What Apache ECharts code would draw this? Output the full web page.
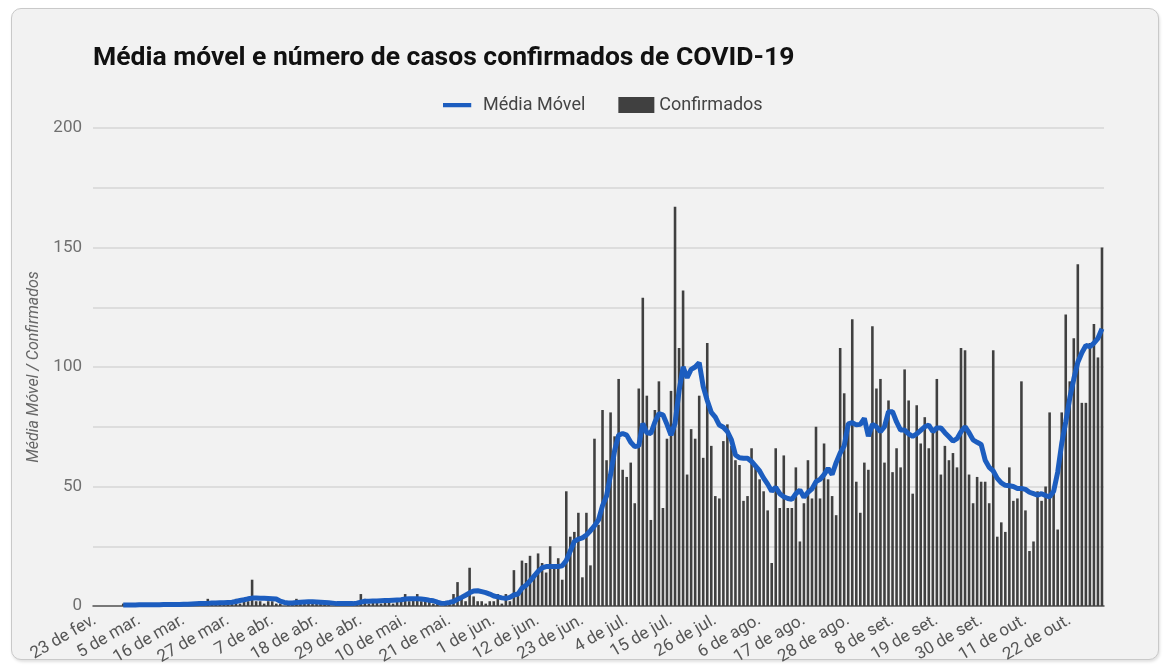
<!DOCTYPE html>
<html><head><meta charset="utf-8">
<script src="https://cdn.jsdelivr.net/npm/echarts@6/dist/echarts.min.js"></script>
<style>
html,body{margin:0;padding:0;background:#fff;}
#panel{position:absolute;left:11px;top:8px;width:1146px;height:650px;border:1px solid #c9c9c9;border-radius:10px;background:#f2f2f2;box-shadow:1px 2px 3px rgba(0,0,0,0.12);}
#chart{position:absolute;left:0;top:0;width:1165px;height:669px;}
</style></head>
<body><div id="panel"></div><div id="chart"></div>
<script>
// Date range: 23 fev. to 30 out. (251 days)
const startDay = [2020, 1, 23]; // year, month index (0-based), day
const dayCount = 251;
const monthNames = ['jan','fev','mar','abr','mai','jun','jul','ago','set','out','nov','dez'];

const confirmados = [
  0,0,0,0,0,0,0,
  1,0,0,1,0,1,0,
  0,1,0,1,0,0,1,
  0,1,0,1,1,2,1,
  3,1,2,1,1,2,1,
  3,1,2,2,11,2,2,
  1,2,2,1,1,0,1,
  1,3,1,2,1,2,1,
  2,1,1,0,1,1,0,
  1,1,2,5,3,1,2,
  2,1,3,2,1,2,3,
  5,2,3,5,2,3,2,
  1,2,0,1,1,5,10,
  3,2,16,4,2,2,1,
  2,2,5,1,5,2,15,
  5,19,18,21,12,22,18,
  14,25,16,20,11,48,29,
  31,39,12,39,17,70,34,
  82,61,81,71,95,57,54,
  60,43,91,129,88,36,82,
  94,41,70,90,167,108,132,
  55,74,70,88,62,110,67,
  46,45,69,76,67,61,59,
  44,46,66,58,53,48,40,
  18,66,41,63,41,41,58,
  27,43,61,45,75,45,68,
  53,46,38,108,89,77,120,
  52,39,60,57,117,91,95,
  60,86,56,66,58,99,86,
  47,84,68,79,66,73,95,
  55,67,61,64,58,108,107,
  55,43,54,52,52,43,107,
  29,35,31,58,44,45,94,
  40,23,27,48,44,50,81,
  47,32,81,122,94,112,143,
  85,85,110,118,104,150
];

const mediaMovel = [
  null,null,null,null,null,null,null,
  0.4,0.4,0.4,0.4,0.5,0.5,0.5,
  0.5,0.5,0.5,0.6,0.6,0.6,0.6,
  0.6,0.7,0.7,0.8,0.9,1.0,1.0,
  1.1,1.3,1.3,1.4,1.4,1.5,1.6,
  1.9,2.3,2.6,3.0,3.3,3.3,3.2,
  3.2,3.1,3.0,2.9,2.0,1.5,1.3,
  1.3,1.5,1.6,1.7,1.8,1.8,1.7,
  1.6,1.5,1.4,1.2,1.0,1.0,1.0,
  1.0,1.0,1.2,1.6,2.0,2.0,2.1,
  2.1,2.2,2.3,2.3,2.4,2.5,2.6,
  2.9,3.0,3.0,3.0,2.9,2.7,2.4,
  2.2,1.6,1.1,1.2,1.5,1.9,2.8,
  3.6,4.5,5.5,6.3,6.4,6.0,5.6,
  5.0,4.2,3.8,3.4,3.2,3.6,4.6,
  5.0,7.5,8.6,10.5,12.5,14.5,16.0,
  16.5,16.5,16.5,16.5,16.8,19.0,23.0,
  27.0,28.0,28.5,29.7,31.5,33.5,36.0,
  42.0,46.0,55.0,65.0,71.5,72.2,71.5,
  68.5,66.7,67.0,76.4,72.5,72.2,77.0,
  80.5,80.0,76.0,71.5,76.4,90.0,100.0,
  95.5,99.0,100.0,101.8,91.8,86.0,81.0,
  79.0,75.7,74.8,73.0,69.5,63.2,62.0,
  61.8,61.8,60.5,58.5,56.5,53.5,51.0,
  48.0,49.7,47.0,45.7,45.0,44.6,47.0,
  48.5,45.5,47.5,49.0,52.0,53.0,55.0,
  57.6,55.0,60.0,64.0,67.0,76.2,76.7,
  75.8,76.0,78.5,71.0,76.0,75.0,73.0,
  75.0,81.3,81.3,77.0,73.6,73.6,72.0,
  71.0,72.0,73.5,75.0,75.7,73.0,74.5,
  74.5,72.5,70.8,69.0,70.0,72.9,75.0,
  72.5,69.5,68.5,67.6,61.0,58.0,56.5,
  53.4,51.5,50.5,50.3,50.0,49.2,49.2,
  48.8,47.6,47.0,46.4,47.0,46.2,45.7,
  48.0,56.0,68.0,77.0,87.0,95.0,102.0,
  106.0,109.0,108.5,110.0,112.0,116.0
];

const yTicks = [0, 50, 100, 150, 200];

const categories = [];
for (let k = 0; k < dayCount; k++) {
  const d = new Date(startDay[0], startDay[1], startDay[2] + k);
  categories.push(d.getDate() + ' de ' + monthNames[d.getMonth()] + '.');
}

const FONT = 'Roboto, "Noto Sans", sans-serif';
const BLUE = '#1c5dbf';
const chart = echarts.init(document.getElementById('chart'), null, {renderer: 'canvas'});
chart.setOption({
  backgroundColor: 'transparent',
  animation: false,
  title: {
    text: 'Média móvel e número de casos confirmados de COVID-19',
    left: 88, top: 40,
    textStyle: {fontFamily: FONT, fontWeight: 'bold', fontSize: 26.5, color: '#111'}
  },
  legend: {
    top: 91, left: 438,
    itemWidth: 36, itemHeight: 16, itemGap: 33,
    textStyle: {fontFamily: FONT, fontSize: 18, color: '#444'},
    data: [
      {name: 'Média Móvel', icon: 'path://M0,0L1,0M0,6.5h30v4.5h-30zM36,17L35,17', itemStyle: {color: BLUE}},
      {name: 'Confirmados', icon: 'rect'}
    ]
  },
  grid: {left: 93, right: 61, top: 128, bottom: 63, containLabel: false},
  xAxis: {
    type: 'category',
    data: categories,
    boundaryGap: true,
    axisLine: {lineStyle: {color: '#555', width: 1.5}},
    axisTick: {show: false},
    axisLabel: {interval: 10, rotate: 30, fontFamily: FONT, fontSize: 17, color: '#555', margin: 13}
  },
  yAxis: {
    type: 'value', min: 0, max: 200, interval: 25,
    name: 'Média Móvel / Confirmados',
    nameLocation: 'middle', nameGap: 48,
    nameTextStyle: {fontFamily: FONT, fontStyle: 'italic', fontSize: 16, color: '#666'},
    axisLine: {show: false}, axisTick: {show: false},
    axisLabel: {
      fontFamily: FONT, fontSize: 17, color: '#707070', margin: 11,
      formatter: v => (yTicks.indexOf(v) >= 0 ? String(v) : '')
    },
    splitLine: {lineStyle: {color: '#d6d6d6', width: 1.5}}
  },
  series: [
    {
      name: 'Confirmados', type: 'bar', data: confirmados,
      barWidth: '64%', itemStyle: {color: '#404040'}, z: 2
    },
    {
      name: 'Média Móvel', type: 'line', data: mediaMovel,
      symbol: 'none', connectNulls: false,
      lineStyle: {color: BLUE, width: 5},
      itemStyle: {color: BLUE}, z: 3
    }
  ]
});
</script>
</body></html>
